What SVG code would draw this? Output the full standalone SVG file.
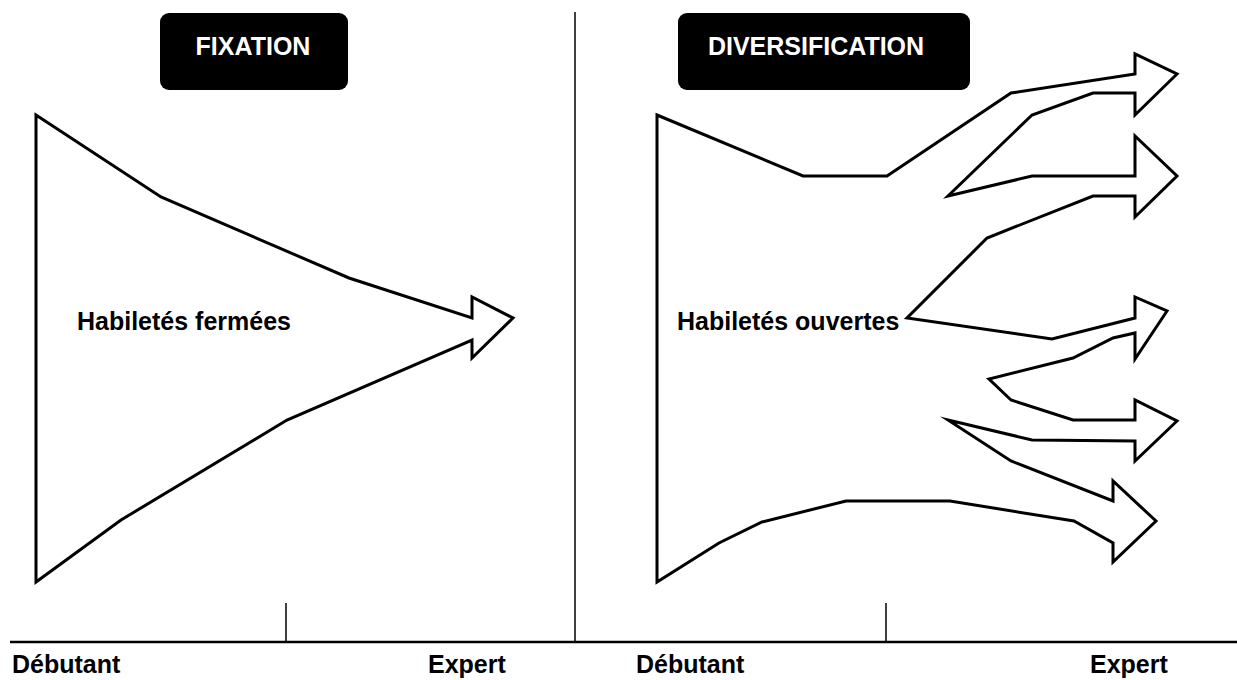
<svg xmlns="http://www.w3.org/2000/svg" width="1237" height="680" viewBox="0 0 1237 680">
<style>
.bg{fill:#fff}
.shape{fill:#fff;stroke:#000;stroke-width:3;stroke-linejoin:miter;stroke-miterlimit:10}
.box{fill:#000}
.title{font-family:"Liberation Sans",Arial,sans-serif;font-weight:bold;font-size:25px;fill:#fff}
.lbl{font-family:"Liberation Sans",Arial,sans-serif;font-weight:bold;font-size:25px;fill:#000}
.axis{stroke:#000;stroke-width:2.5;fill:none}
.tick{stroke:#000;stroke-width:1.5;fill:none}
</style>
<rect class="bg" x="0" y="0" width="1237" height="680"/>
<g id="axes">
<line class="tick" x1="575" y1="12" x2="575" y2="642"/>
<line class="tick" x1="286" y1="603" x2="286" y2="642"/>
<line class="tick" x1="886" y1="603" x2="886" y2="642"/>
<line class="axis" x1="10" y1="642" x2="1237" y2="642"/>
</g>
<g id="fixation">
<rect class="box" x="160" y="13" width="188" height="77" rx="9"/>
<text class="title" x="253" y="55" text-anchor="middle">FIXATION</text>
</g>
<g id="diversification">
<rect class="box" x="678" y="13" width="292" height="77" rx="9"/>
<text class="title" x="816" y="55" text-anchor="middle">DIVERSIFICATION</text>
</g>
<g id="closed-skills">
<polygon class="shape" points="36,115 161,197 349,278 472,318 472,297 513,318 472,358 472,340 287,420 121,520 36,582"/>
<text class="lbl" x="77" y="330">Habiletés fermées</text>
</g>
<g id="open-skills">
<polygon class="shape" points="657,115 803,176 887,176 1011,93 1135,74 1135,54 1177,74 1135,115 1135,93 1093,93 1032,115 948,196 1032,176 1135,176 1135,136 1177,176 1135,217 1135,196 1093,196 987,238 907,318 1052,339 1135,318 1135,297 1167,311 1135,359 1135,333 1113,338 1073,358 989,379 1011,400 1073,420 1135,420 1135,400 1177,421 1135,461 1135,441 1032,440 948,420 1011,461 1113,501 1113,481 1156,521 1113,562 1113,543 1074,521 950,501 846,501 762,522 719,543 657,582"/>
<text class="lbl" x="677" y="330">Habiletés ouvertes</text>
</g>
<g id="axis-labels">
<text class="lbl" x="12" y="673">Débutant</text>
<text class="lbl" x="428" y="673">Expert</text>
<text class="lbl" x="636" y="673">Débutant</text>
<text class="lbl" x="1090" y="673">Expert</text>
</g>
</svg>
